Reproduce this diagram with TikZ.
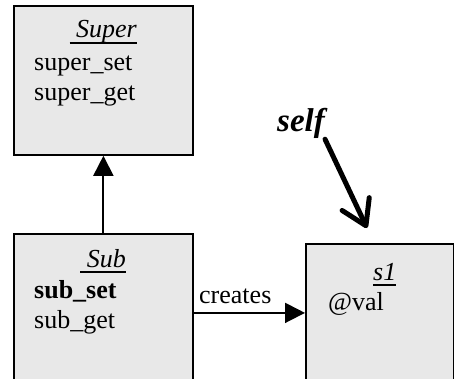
\documentclass[tikz,border=0pt]{standalone}
\usepackage{fontspec}
\setmainfont{Liberation Serif}
\usetikzlibrary{arrows.meta,positioning}
% understregning med fast afstand under grundlinjen
\newcommand{\strek}[1]{\setbox0\hbox{#1}\rlap{\rule[-5.8pt]{\wd0}{1.5pt}}\box0}
\tikzset{
    >={Triangle[length=20pt,width=20pt]},
    klasse/.style={
           rectangle,
           draw=black, line width=1.8pt,
           fill=black!9,
           inner sep=0pt,
           anchor=north west},
    tekst/.style={
           anchor=base west,
           inner sep=0pt,
           font=\fontsize{26}{30}\selectfont},
    pil/.style={
           ->,
           line width=1.9pt}
}
\begin{document}
\begin{tikzpicture}[x=1pt,y=-1pt]
          \useasboundingbox (0,0) rectangle (454,379);
          % klasser og objekt
          \node[klasse, minimum width=179pt, minimum height=149pt] (super) at (13,5) {};
          \node[klasse, minimum width=179pt, minimum height=158pt] (sub) at (13,233) {};
          \node[klasse, minimum width=148pt, minimum height=160pt] (s1) at (305,243) {};
          % tekster i boksene
          \node[tekst, anchor=base east] (supertitel) at (137,38) {\strek{\ \textit{Super}}};
          \node[tekst] (superset) at (34,71) {super\_set};
          \node[tekst] (superget) at (34,101) {super\_get};
          \node[tekst, anchor=base east] (subtitel) at (126,267) {\strek{\ \textit{Sub}}};
          \node[tekst] (subset) at (34,298) {\textbf{sub\_set}};
          \node[tekst] (subget) at (34,328) {sub\_get};
          \node[tekst] (s1titel) at (373,280) {\strek{\textit{s1}}};
          \node[tekst] (val) at (328,310) {@val};
          \node[tekst] (creates) at (199,303) {creates};
          \node[tekst, font=\fontsize{33}{38}\selectfont\bfseries\itshape] (self) at (277,132) {self};
          \coordinate (selfspids) at (367,228);
          % pile
          \draw[pil] (sub.north) -- (super.south);
          \draw[pil] (sub.east) -- (s1.west |- sub.east);
          \draw[line width=5pt, line cap=round, -{Straight Barb[length=24pt,width=30pt,round]}] (self.south east) -- (selfspids);
\end{tikzpicture}
\end{document}
